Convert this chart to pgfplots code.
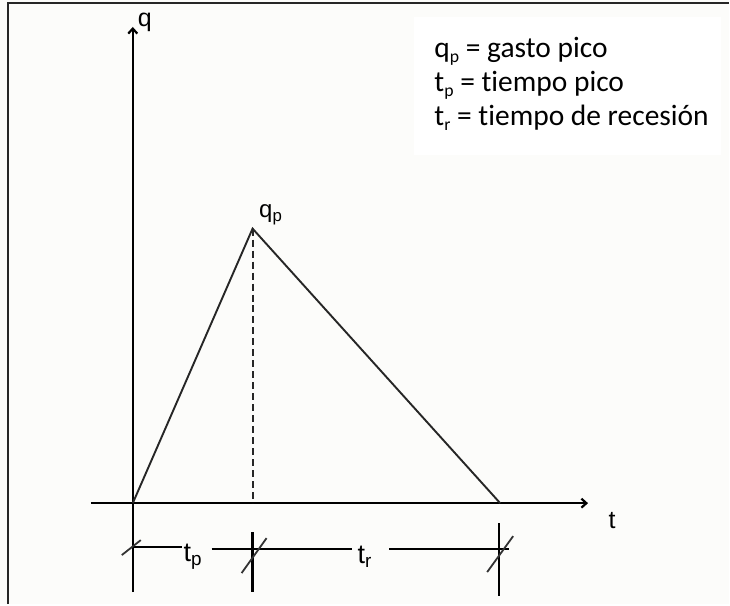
\documentclass[border=0pt]{standalone}
\usepackage{fontspec}
\setmainfont{Carlito}[Ligatures=NoCommon]
\newfontfamily\arialf{Liberation Sans}
\usepackage{pgfplots}
\pgfplotsset{compat=1.18}
\usetikzlibrary{arrows.meta}
\definecolor{paper}{RGB}{252,252,250}
\newcommand{\sub}[2][0.62]{\raisebox{-0.3ex}{\scalebox{#1}{#2}}}

\begin{document}
\begin{tikzpicture}
\begin{axis}[
  scale only axis, width=730pt, height=605pt,
  xmin=-1.10833, xmax=4.975, ymin=-0.36727, ymax=1.83273,
  hide axis, clip=false,
]
% paper, legend box and frame
\fill[paper] (rel axis cs:0,0) rectangle (rel axis cs:1,1);
\fill[white] (rel axis cs:0.568,0.744) rectangle (rel axis cs:0.989,0.972);
\draw[black!85, line width=2.4pt] (rel axis cs:0.011,0) -- (rel axis cs:0.011,0.995) -- (rel axis cs:1,0.995);

% axes
\draw[black, line width=2.2pt, -{Straight Barb[length=5pt,width=9pt]}]
  (rel axis cs:0.18219,0.01983) -- (rel axis cs:0.18219,0.95537);
\draw[black, line width=2.2pt, -{Straight Barb[length=5pt,width=9pt]}]
  (rel axis cs:0.12466,0.16694) -- (rel axis cs:0.80685,0.16694);
\node[font=\arialf\fontsize{25}{25}\selectfont] at (rel axis cs:0.19863,0.96364) {q};
\node[font=\arialf\fontsize{25}{25}\selectfont] at (rel axis cs:0.83973,0.13884) {t};

% triangular hydrograph
\addplot[black!85, line width=1.9pt] coordinates {(0,0) (1,1) (3.0667,0)};
\draw[black!85, line width=1.9pt, dash pattern=on 7pt off 4pt] (axis cs:1,1) -- (axis cs:1,0);
\node[font=\arialf\fontsize{24}{24}\selectfont] at (rel axis cs:0.37123,0.64463) {q\sub[0.7]{p}};

% dimension lines
\draw[black, line width=2.2pt] (rel axis cs:0.34658,0.11901) -- (rel axis cs:0.34658,0.01983);
\draw[black, line width=2.2pt] (rel axis cs:0.68493,0.13388) -- (rel axis cs:0.68493,0.01322);
\draw[black, line width=1.9pt] (rel axis cs:0.18219,0.09421) -- (rel axis cs:0.24932,0.09421);
\draw[black, line width=1.9pt] (rel axis cs:0.29041,0.09091) -- (rel axis cs:0.48356,0.09091);
\draw[black, line width=1.9pt] (rel axis cs:0.53425,0.09091) -- (rel axis cs:0.69863,0.09091);
\draw[black!80, line width=1.8pt] (rel axis cs:0.16712,0.08099) -- (rel axis cs:0.19315,0.10579);
\draw[black!80, line width=1.8pt] (rel axis cs:0.33151,0.05124) -- (rel axis cs:0.36575,0.10909);
\draw[black!80, line width=1.8pt] (rel axis cs:0.66849,0.05289) -- (rel axis cs:0.70411,0.11240);
\node[font=\arialf\fontsize{27}{27}\selectfont] at (rel axis cs:0.26438,0.07769) {t\sub[0.7]{p}};
\node[font=\arialf\fontsize{27}{27}\selectfont] at (rel axis cs:0.5,0.07769) {t\sub[0.7]{r}};

% legend
\node[anchor=base west, font=\fontsize{29.5}{29.5}\selectfont, inner sep=0pt] at (rel axis cs:0.59589,0.90413) {q\sub[0.6]{p} = gasto pico};
\node[anchor=base west, font=\fontsize{29.5}{29.5}\selectfont, inner sep=0pt] at (rel axis cs:0.59589,0.84793) {t\sub[0.6]{p} = tiempo pico};
\node[anchor=base west, font=\fontsize{29.5}{29.5}\selectfont, inner sep=0pt] at (rel axis cs:0.59589,0.79174) {t\sub[0.6]{r} = tiempo de recesión};
\end{axis}
\end{tikzpicture}
\end{document}
